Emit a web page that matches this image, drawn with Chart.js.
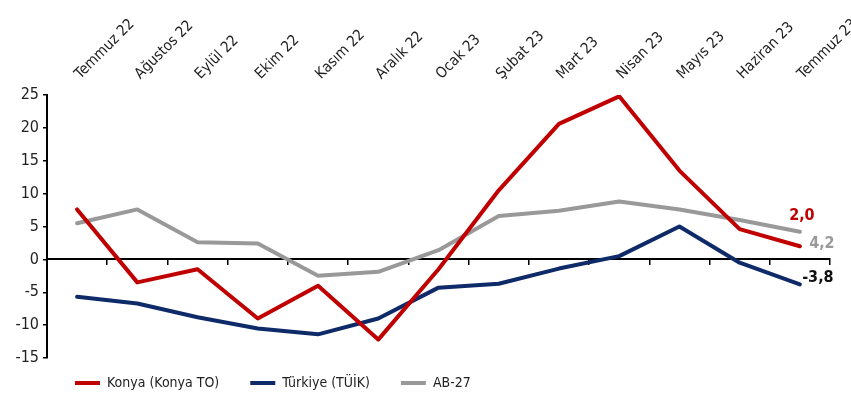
<!DOCTYPE html>
<html>
<head>
<meta charset="utf-8">
<script src="https://cdn.jsdelivr.net/npm/chart.js@4"></script>
<style>
  html, body { margin: 0; padding: 0; background: #fff; }
  #wrap { width: 851px; height: 405px; }
</style>
</head>
<body>
<div id="wrap"><canvas id="chart"></canvas></div>
<script>
const months = ["Temmuz 22", "Ağustos 22", "Eylül 22", "Ekim 22", "Kasım 22", "Aralık 22",
    "Ocak 23", "Şubat 23", "Mart 23", "Nisan 23", "Mayıs 23", "Haziran 23", "Temmuz 23"];
const konya = [7.6, -3.5, -1.5, -9.0, -4.0, -12.2, -1.5, 10.5, 20.6, 24.8, 13.5, 4.6, 2.0];
const turkiye = [-5.7, -6.7, -8.8, -10.5, -11.4, -9.0, -4.3, -3.7, -1.4, 0.5, 5.0, -0.5, -3.8];
const ab27 = [5.5, 7.6, 2.6, 2.4, -2.5, -1.9, 1.4, 6.6, 7.4, 8.8, 7.6, 6.0, 4.2];
const yTicks = [-15, -10, -5, 0, 5, 10, 15, 20, 25];

const font = "'Liberation Sans Narrow', 'DejaVu Sans Condensed', 'Open Sans', sans-serif";

// value labels at the end of each line
const endLabels = {
    id: "endLabels",
    afterDatasetsDraw(chart) {
        const styles = [
            { dx: 2, dy: -30, color: "#c00000" },
            { dx: 18, dy: -7, color: "#111111" },
            { dx: 22, dy: 12, color: "#9a9a9a" }
        ];
        const ctx = chart.ctx;
        ctx.save();
        ctx.font = "bold 16px " + font;
        ctx.textAlign = "center";
        ctx.textBaseline = "middle";
        chart.data.datasets.forEach((ds, i) => {
            const pts = chart.getDatasetMeta(i).data;
            const p = pts[pts.length - 1];
            const v = ds.data[ds.data.length - 1];
            ctx.fillStyle = styles[i].color;
            ctx.fillText(v.toFixed(1).replace(".", ","), p.x + styles[i].dx, p.y + styles[i].dy);
        });
        ctx.restore();
    }
};

// legend sits in a short strip, shifted right like the original
const legendFit = {
    id: "legendFit",
    afterInit(chart) {
        const legend = chart.legend;
        const fit = legend.fit;
        legend.fit = function () { fit.call(this); this.height = 47; };
        const draw = legend.draw;
        legend.draw = function () {
            const t = this.top, l = this.left;
            this.top = t - 13;
            this.left = l + 44;
            draw.call(this);
            this.top = t;
            this.left = l;
        };
    }
};

new Chart(document.getElementById("chart"), {
    type: "line",
    data: {
        labels: months,
        datasets: [
            { label: "Konya (Konya TO)", data: konya, borderColor: "#c00000", backgroundColor: "#c00000", borderWidth: 4 },
            { label: "Türkiye (TÜİK)", data: turkiye, borderColor: "#0e2a68", backgroundColor: "#0e2a68", borderWidth: 4 },
            { label: "AB-27", data: ab27, borderColor: "#999999", backgroundColor: "#999999", borderWidth: 4 }
        ]
    },
    options: {
        responsive: true,
        maintainAspectRatio: false,
        animation: false,
        layout: { padding: { left: 0, right: 21, top: 0, bottom: 0 } },
        elements: {
            line: { tension: 0, borderCapStyle: "round", borderJoinStyle: "round" },
            point: { radius: 0 }
        },
        scales: {
            x: {
                type: "category",
                position: "top",
                offset: true,
                grid: { display: false },
                border: { display: false },
                ticks: {
                    autoSkip: false,
                    minRotation: 45,
                    maxRotation: 45,
                    padding: 4,
                    labelOffset: 13,
                    color: "#222",
                    font: { family: font, size: 15 }
                },
                afterFit(s) { s.height = 95; s.paddingLeft = 0; s.paddingRight = 0; }
            },
            x0: {
                type: "category",
                axis: "x",
                position: { y: 0 },
                offset: true,
                grid: { offset: true, drawOnChartArea: false, tickLength: 5, color: "#000", lineWidth: 1.5 },
                border: { color: "#000", width: 2 },
                ticks: { display: false }
            },
            y: {
                min: -15,
                max: 25,
                afterBuildTicks(s) { s.ticks = yTicks.map(v => ({ value: v })); },
                grid: { drawOnChartArea: false, tickLength: 4, color: "#000", lineWidth: 1.5 },
                border: { color: "#000", width: 2 },
                ticks: {
                    padding: 4,
                    color: "#222",
                    font: { family: font, size: 16 }
                },
                afterFit(s) { s.width = 47; }
            }
        },
        plugins: {
            legend: {
                position: "bottom",
                align: "start",
                labels: {
                    usePointStyle: true,
                    pointStyle: "line",
                    pointStyleWidth: 25,
                    padding: 31,
                    color: "#222",
                    font: { family: font, size: 14 }
                }
            },
            tooltip: { enabled: false }
        }
    },
    plugins: [endLabels, legendFit]
});
</script>
</body>
</html>
